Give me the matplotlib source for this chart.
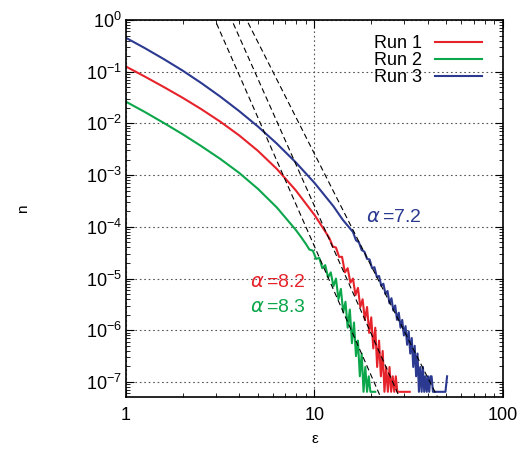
import numpy as np
import matplotlib
matplotlib.use("Agg")
import matplotlib.pyplot as plt
from matplotlib import ticker

plt.rcParams['font.family'] = ['Liberation Sans', 'DejaVu Sans']

# Run 1 (red): epsilon, log10(n)
run1_eps = [1.0, 1.26, 1.585, 2.0, 2.51, 3.16, 3.98, 5.01, 6.31, 7.94, 10.0, 11.2,
            12.0, 12.5, 13.0, 13.5, 14.0, 14.5, 15.0, 15.5, 16.0, 16.5,
            17.0, 17.5, 18.0, 18.5, 19.0, 19.5, 20.0, 20.5, 21.0, 21.5,
            22.0, 22.5, 23.0, 23.5, 24.0, 24.5, 25.0, 25.5, 26.0, 26.5,
            27.0, 27.5, 28.5, 30.0, 32.0]
run1_logn = [-0.90, -1.095, -1.295, -1.505, -1.725, -1.965, -2.23, -2.53, -2.88, -3.29, -3.77, -4.045,
             -4.22, -4.38, -4.40, -4.58, -4.58, -4.88, -4.80, -5.08, -5.00, -5.32,
             -5.18, -5.55, -5.40, -5.80, -5.55, -6.05, -5.75, -6.35, -5.95, -6.71,
             -6.20, -6.89, -6.40, -7.19, -6.71, -7.19, -6.71, -7.19, -6.89, -7.19,
             -6.89, -7.19, -7.19, -7.19, -7.19]

# Run 2 (green)
run2_eps = [1.0, 1.26, 1.585, 2.0, 2.51, 3.16, 3.98, 5.01, 6.31, 7.94, 8.5,
            9.0, 9.4, 9.8, 10.2, 10.6, 11.0, 11.4, 11.8, 12.2, 12.6,
            13.0, 13.4, 13.8, 14.2, 14.6, 15.0, 15.4, 15.8, 16.2, 16.6,
            17.0, 17.4, 17.8, 18.2, 18.6, 19.0, 19.4, 19.8, 20.2, 21.0]
run2_logn = [-1.58, -1.78, -1.99, -2.21, -2.44, -2.685, -2.955, -3.265, -3.625, -4.055, -4.20,
             -4.33, -4.44, -4.46, -4.62, -4.60, -4.80, -4.74, -4.98, -4.88, -5.15,
             -5.00, -5.40, -5.20, -5.65, -5.45, -5.95, -5.60, -6.25, -5.85, -6.50,
             -6.20, -6.89, -6.45, -7.19, -6.71, -7.19, -6.89, -7.19, -7.19, -7.19]

# Run 3 (blue)
run3_eps = [1.0, 1.26, 1.585, 2.0, 2.51, 3.16, 3.98, 5.01, 6.31, 7.94, 10.0, 12.59, 14.1,
            16.0, 16.6, 17.2, 17.8, 18.4, 19.0, 19.6, 20.2, 20.8, 21.4,
            22.0, 22.6, 23.2, 23.8, 24.4, 25.0, 25.6, 26.2, 26.8, 27.4,
            28.0, 28.6, 29.2, 29.8, 30.4, 31.0, 31.6, 32.2, 32.8, 33.4,
            34.0, 34.6, 35.2, 35.8, 36.4, 37.0, 37.6, 38.2, 38.8, 39.4,
            40.0, 40.6, 41.2, 41.8, 42.5, 45.0, 49.5, 50.5]
run3_logn = [-0.345, -0.545, -0.755, -0.98, -1.22, -1.48, -1.76, -2.06, -2.39, -2.75, -3.15, -3.60, -3.86,
             -4.10, -4.26, -4.30, -4.45, -4.48, -4.62, -4.63, -4.80, -4.78, -4.97,
             -4.95, -5.14, -5.10, -5.30, -5.24, -5.48, -5.38, -5.62, -5.52, -5.80,
             -5.66, -5.95, -5.80, -6.10, -5.92, -6.28, -6.02, -6.45, -6.15, -6.71,
             -6.30, -6.89, -6.45, -7.19, -6.71, -7.19, -6.71, -7.19, -6.89, -7.19,
             -6.89, -7.19, -6.89, -6.89, -7.19, -7.19, -7.19, -6.89]

labels = ['Run 1', 'Run 2', 'Run 3']
colors = ['#e6232b', '#0ca64b', '#2b3990']

# power-law fits n = A * eps^-alpha
fit_alpha = [8.2, 8.3, 7.2]
fit_logA = [4.60, 3.92, 4.61]
fit_text = [r'$\alpha\,$=8.2', r'$\alpha\,$=8.3', r'$\alpha\,$=7.2']
text_pos = [(6.4, 8.5e-6), (6.4, 2.8e-6), (26.4, 1.55e-4)]

fig = plt.figure(figsize=(5.26, 4.5), dpi=100)
ax = fig.add_axes([0.2395, 0.1178, 0.7168, 0.8378])

runs = [(run1_eps, run1_logn), (run2_eps, run2_logn), (run3_eps, run3_logn)]
for (eps, logn), lab, c in zip(runs, labels, colors):
    ax.plot(eps, 10 ** np.array(logn), color=c, lw=1.5, label=lab)

xf = np.array([1.5, 80.0])
for a, la in zip(fit_alpha, fit_logA):
    ax.plot(xf, 10 ** (la - a * np.log10(xf)), color='black', lw=0.8,
            ls=(0, (5, 3)), zorder=3)

for (tx, ty), s, c in zip(text_pos, fit_text, colors):
    ax.text(tx, ty, s, color=c, fontsize=14, ha='center', va='center')

ax.set_xscale('log')
ax.set_yscale('log')
ax.set_xlim(1, 100)
ax.set_ylim(10 ** -7.29, 1)
ax.xaxis.set_major_formatter(ticker.FuncFormatter(lambda v, p: '%g' % v))
ax.xaxis.set_minor_formatter(ticker.NullFormatter())
ax.grid(True, which='major', ls=(0, (1.5, 2.5)), color='#555555', lw=0.8)
ax.tick_params(which='both', direction='in', top=True, right=True, labelsize=13)
ax.tick_params(which='major', length=6, width=0.8)
ax.tick_params(which='minor', length=3, width=0.6)
ax.tick_params(axis='x', pad=7)
ax.tick_params(axis='y', pad=3)
ax.yaxis.set_major_locator(ticker.LogLocator(base=10, numticks=12))
ax.yaxis.set_minor_locator(ticker.LogLocator(base=10, subs=np.arange(2, 10), numticks=12))
ax.yaxis.set_minor_formatter(ticker.NullFormatter())
for sp in ax.spines.values():
    sp.set_linewidth(1.2)

ax.set_xlabel('ε', fontsize=11, labelpad=6)
ax.set_ylabel('n', fontsize=11, labelpad=40)

ax.legend(loc='upper right', bbox_to_anchor=(0.944, 0.959), frameon=False,
          markerfirst=False, fontsize=13, labelspacing=0.0, handlelength=2.6,
          handletextpad=0.7, borderpad=0, borderaxespad=0)

fig.savefig('out.png', dpi=100)
